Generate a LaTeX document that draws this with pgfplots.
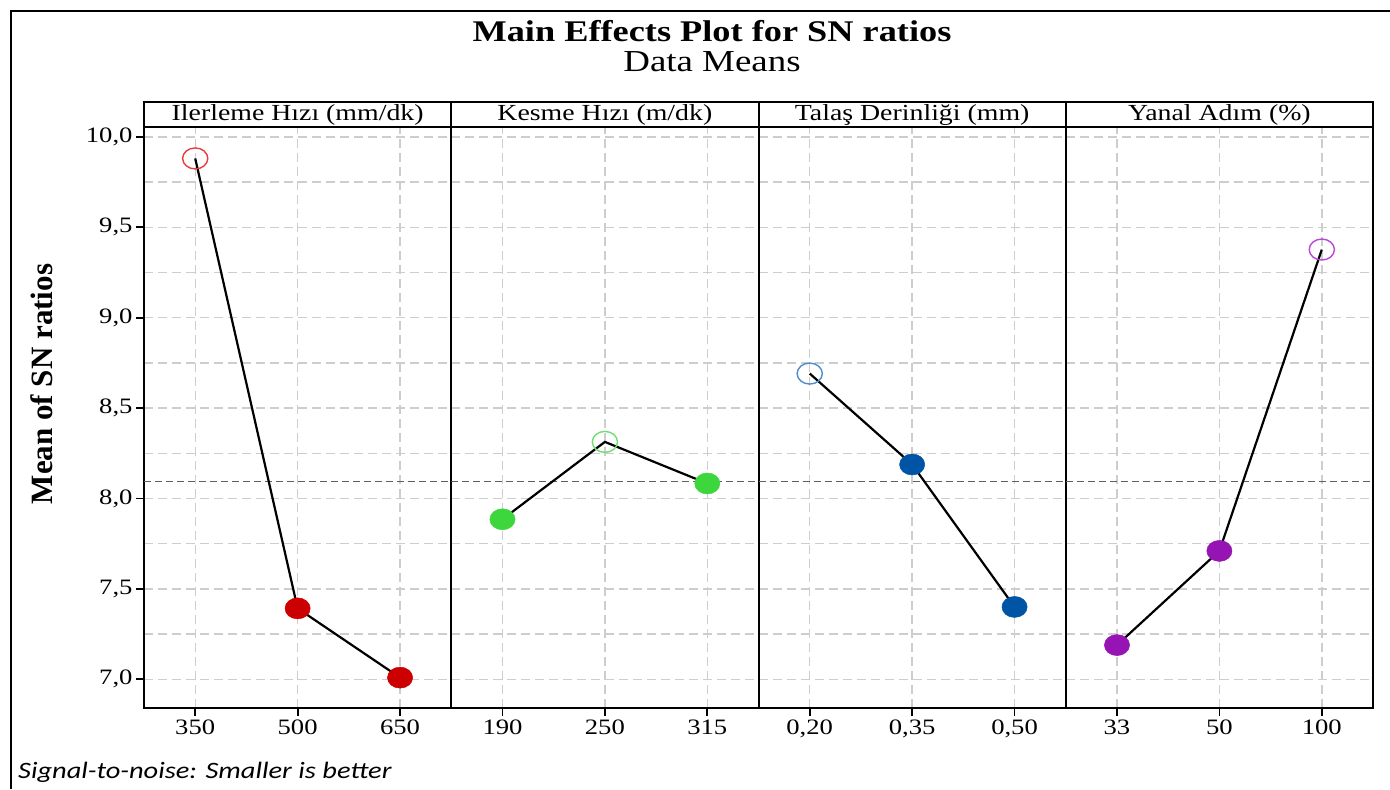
\documentclass[border=0pt]{standalone}
\usepackage{fontspec}
\usepackage{pgfplots}
\usepackage{pgfplotstable}
\pgfplotsset{compat=1.18}

\setmainfont{Liberation Serif}[FakeStretch=1.21]
\newfontfamily\ylabfont{Liberation Serif}
\newfontfamily\notefont{Carlito}[FakeStretch=1.21]

\definecolor{gridgray}{RGB}{205,205,205}
\definecolor{meangray}{RGB}{95,95,95}
\definecolor{fred}{RGB}{204,0,0}
\definecolor{ored}{RGB}{232,60,60}
\definecolor{fgreen}{RGB}{61,214,61}
\definecolor{ogreen}{RGB}{110,222,110}
\definecolor{fblue}{RGB}{0,84,166}
\definecolor{oblue}{RGB}{80,140,205}
\definecolor{fpurple}{RGB}{150,20,180}
\definecolor{opurple}{RGB}{185,70,215}

% factor level means of the SN ratios
\pgfplotstableread{
x y
1 9.881
2 7.392
3 7.009
}\ilerleme
\pgfplotstableread{
x y
1 7.885
2 8.313
3 8.083
}\kesme
\pgfplotstableread{
x y
1 8.691
2 8.188
3 7.400
}\talas
\pgfplotstableread{
x y
1 7.189
2 7.710
3 9.377
}\yanal
\def\grandmean{8.094}

\newcommand\ticksize{\fontsize{22bp}{26bp}\selectfont}
\newcommand\stripsize{\fontsize{23bp}{27bp}\selectfont}

\pgfplotsset{
  panel/.style={
    scale only axis, width=307.25bp, height=581bp,
    anchor=south west,
    xmin=0.5, xmax=3.5, ymin=6.841, ymax=10.055,
    xtick={1,2,3},
    ytick={7,7.5,...,10},
    minor ytick={7.25,7.75,...,9.75},
    grid=both,
    major grid style={dash pattern=on 9bp off 5bp, line width=1.4bp, gridgray},
    minor grid style={dash pattern=on 9bp off 5bp, line width=1.4bp, gridgray},
    axis line style={line width=2bp, black},
    tick align=outside, tick pos=left,
    major tick length=8bp, minor tick length=0pt,
    tick style={line width=1.8bp, black},
    xticklabel style={font=\ticksize},
    yticklabel style={font=\ticksize},
  },
  meanline/.style={meangray, line width=1.8bp, dash pattern=on 7bp off 4bp, forget plot},
  effect/.style={black, line width=2.2bp, no marks},
  filled/.style={only marks, mark=*, mark size=10.5bp, line width=0.5bp,
    mark options={xscale=1.2, draw=#1, fill=#1}},
  hollow/.style={only marks, mark=o, mark size=10.5bp, line width=1.4bp,
    mark options={xscale=1.2, draw=#1}},
  noyticks/.style={yticklabels={}, ytick style={draw=none}},
}

\begin{document}
\begin{tikzpicture}[x=1bp, y=1bp]
\useasboundingbox (0,0) rectangle (1390,789);

% outer frame
\draw[line width=2.2bp] (11,0) -- (11,778) -- (1390,778);

% titles
\node[anchor=base] at (712,747.3) {\fontsize{30bp}{34bp}\selectfont\bfseries Main Effects Plot for SN ratios};
\node[anchor=base] at (712,717.3) {\fontsize{30.5bp}{34bp}\selectfont Data Means};

% panel 1
\begin{axis}[panel, at={(144bp,81bp)},
  xticklabels={350,500,650},
  yticklabels={{7,0},{7,5},{8,0},{8,5},{9,0},{9,5},{10,0}}]
  \addplot[meanline] coordinates {(0.5,\grandmean) (3.5,\grandmean)};
  \addplot[effect] table {\ilerleme};
  \addplot[filled=fred, mark indices={2,3}] table {\ilerleme};
  \addplot[hollow=ored, mark indices={1}] table {\ilerleme};
\end{axis}

% panel 2
\begin{axis}[panel, noyticks, at={(451.25bp,81bp)},
  xticklabels={190,250,315}]
  \addplot[meanline] coordinates {(0.5,\grandmean) (3.5,\grandmean)};
  \addplot[effect] table {\kesme};
  \addplot[filled=fgreen, mark indices={1,3}] table {\kesme};
  \addplot[hollow=ogreen, mark indices={2}] table {\kesme};
\end{axis}

% panel 3
\begin{axis}[panel, noyticks, at={(758.5bp,81bp)},
  xticklabels={{0,20},{0,35},{0,50}}]
  \addplot[meanline] coordinates {(0.5,\grandmean) (3.5,\grandmean)};
  \addplot[effect] table {\talas};
  \addplot[filled=fblue, mark indices={2,3}] table {\talas};
  \addplot[hollow=oblue, mark indices={1}] table {\talas};
\end{axis}

% panel 4
\begin{axis}[panel, noyticks, at={(1065.75bp,81bp)},
  xticklabels={33,50,100}]
  \addplot[meanline] coordinates {(0.5,\grandmean) (3.5,\grandmean)};
  \addplot[effect] table {\yanal};
  \addplot[filled=fpurple, mark indices={1,2}] table {\yanal};
  \addplot[hollow=opurple, mark indices={3}] table {\yanal};
\end{axis}

% factor strips
\foreach \xa/\xb/\lab in {144/451.25/{Ilerleme Hızı (mm/dk)},
                          451.25/758.5/{Kesme Hızı (m/dk)},
                          758.5/1065.75/{Talaş Derinliği (mm)},
                          1065.75/1373/{Yanal Adım (\%)}} {
  \draw[line width=2bp] (\xa,662) rectangle (\xb,687);
  \node[anchor=base, inner sep=0pt] at ({(\xa+\xb)/2},668.3) {\stripsize\lab};
}

% y axis label
\node[anchor=base, rotate=90] at (52,405) {\ylabfont\fontsize{31bp}{35bp}\selectfont\bfseries Mean of SN ratios};

% note
\node[anchor=base west, inner sep=0pt] at (18,11) {\notefont\itshape\fontsize{23.5bp}{27bp}\selectfont Signal-to-noise: Smaller is better};
\end{tikzpicture}
\end{document}
